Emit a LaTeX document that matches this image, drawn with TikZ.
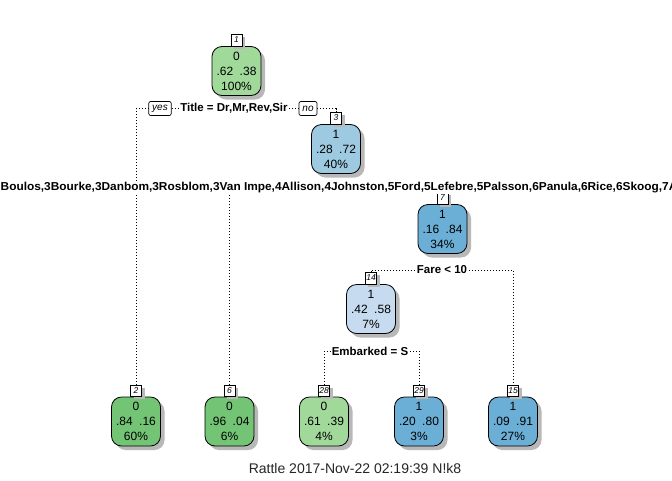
\documentclass[tikz,border=0pt]{standalone}
\usepackage{fontspec}
\setmainfont{Liberation Sans}
\usetikzlibrary{shadows}
\definecolor{gA}{RGB}{161,217,155}
\definecolor{gB}{RGB}{116,196,118}
\definecolor{bA}{RGB}{198,219,239}
\definecolor{bB}{RGB}{158,202,225}
\definecolor{bC}{RGB}{107,174,214}
\begin{document}
\begin{tikzpicture}[x=1pt,y=-1pt,
  tbox/.style={draw=black, line width=0.8pt, rounded corners=10pt, minimum width=49pt, minimum height=49pt,
    inner sep=0pt, align=center, font=\fontsize{12}{15}\selectfont,
    drop shadow={shadow xshift=4pt, shadow yshift=-4pt, opacity=1, fill=black!28}},
  nbox/.style={draw=black, fill=white, line width=0.6pt, minimum height=11.5pt, minimum width=11pt,
    inner sep=1pt, anchor=south, font=\fontsize{8.5}{9}\selectfont\itshape,
    drop shadow={shadow xshift=3pt, shadow yshift=-3pt, opacity=1, fill=black!28}},
  ynbox/.style={draw=black, fill=white, rounded corners=2pt, line width=0.7pt, inner xsep=3.5pt, inner ysep=1pt,
    minimum height=14pt, font=\fontsize{10}{12}\selectfont\itshape},
  splitlab/.style={fill=white, inner xsep=1.5pt, inner ysep=1pt, font=\fontsize{11.5}{13}\selectfont\bfseries},
  dline/.style={line width=0.9pt, dash pattern=on 0.9pt off 2.1pt}]
\useasboundingbox (0,0) rectangle (672,480);
\clip (0,0) rectangle (672,480);
\fill[white] (0,0) rectangle (672,480);
\newcommand{\pr}[2]{#1\hspace{6.5pt}#2}
% tree nodes
\node[tbox, fill=gA] (n1) at (236.5,71) {0\\\pr{.62}{.38}\\100\%};
\node[nbox] (n1lab) at (n1.north) {1};
\node[tbox, fill=bB] (n3) at (336,149) {1\\\pr{.28}{.72}\\40\%};
\node[nbox] (n3lab) at (n3.north) {3};
\node[tbox, fill=bC] (n7) at (442.5,229) {1\\\pr{.16}{.84}\\34\%};
\node[nbox] (n7lab) at (n7.north) {7};
\node[tbox, fill=bA] (n14) at (371,309) {1\\\pr{.42}{.58}\\7\%};
\node[nbox] (n14lab) at (n14.north) {14};
\node[tbox, fill=gB] (n2) at (136,421.5) {0\\\pr{.84}{.16}\\60\%};
\node[nbox] (n2lab) at (n2.north) {2};
\node[tbox, fill=gB] (n6) at (229.5,421.5) {0\\\pr{.96}{.04}\\6\%};
\node[nbox] (n6lab) at (n6.north) {6};
\node[tbox, fill=gA] (n28) at (324,421.5) {0\\\pr{.61}{.39}\\4\%};
\node[nbox] (n28lab) at (n28.north) {28};
\node[tbox, fill=bC] (n29) at (419,421.5) {1\\\pr{.20}{.80}\\3\%};
\node[nbox] (n29lab) at (n29.north) {29};
\node[tbox, fill=bC] (n15) at (513,421.5) {1\\\pr{.09}{.91}\\27\%};
\node[nbox] (n15lab) at (n15.north) {15};
% root split
\node[ynbox] (yes) at (160,108.5) {yes};
\node[splitlab] (s1) at (234,108.5) {Title = Dr,Mr,Rev,Sir};
\node[ynbox] (no) at (308,108.5) {no};
\draw[dline] (n2lab.north) |- (yes.west);
\draw[dline] (yes.east) -- (s1.west);
\draw[dline] (s1.east) -- (no.west);
\draw[dline] (no.east) -| (n3lab.north);
% node 3 split
\coordinate (s3c) at (336,188);
\draw[dline] (n6lab.north) |- (s3c) -| (n7lab.north);
\node[splitlab, anchor=west, inner xsep=0pt] (s3) at (0.5,188) {\scalebox{1.032}[1]{Boulos,3Bourke,3Danbom,3Rosblom,3Van Impe,4Allison,4Johnston,5Ford,5Lefebre,5Palsson,6Panula,6Rice,6Skoog,7A}};
% node 7 split
\node[splitlab] (s7) at (442,270) {Fare < 10};
\draw[dline] (n14lab.north) |- (s7.west);
\draw[dline] (s7.east) -| (n15lab.north);
% node 14 split
\node[splitlab] (s14) at (370,351) {Embarked = S};
\draw[dline] (n28lab.north) |- (s14.west);
\draw[dline] (s14.east) -| (n29lab.north);
% caption
\node[font=\fontsize{14}{16}\selectfont, text=black!85] (rattle) at (355,468) {Rattle 2017-Nov-22 02:19:39 N!k8};
\end{tikzpicture}
\end{document}
